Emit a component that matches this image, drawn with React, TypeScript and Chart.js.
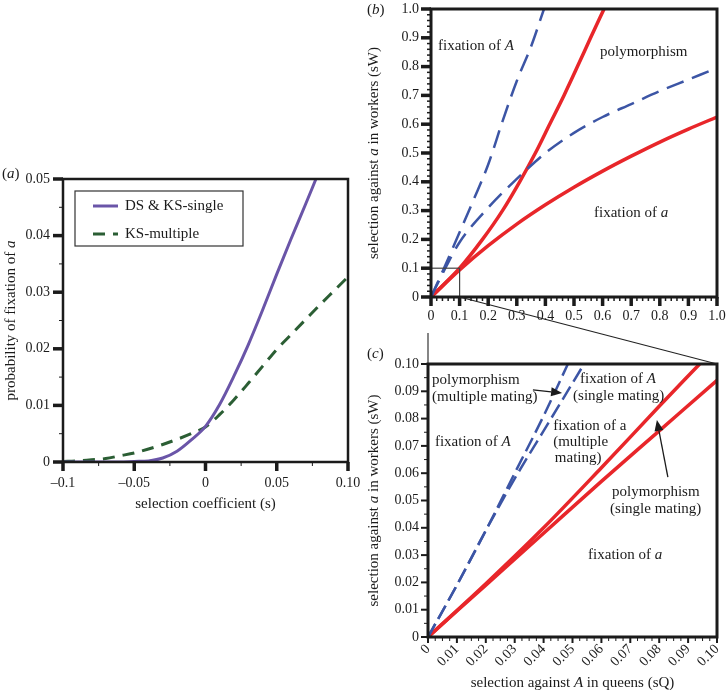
import React, { useEffect, useRef } from 'react';
import { Chart, registerables } from 'chart.js';

Chart.register(...registerables);

const FONT = '"Liberation Serif", "Times New Roman", Times, serif';
const INK = '#1b1b1b';
Chart.defaults.font.family = FONT;

// ---------------- Panel (a) data ----------------
const sSingle = [-0.1, -0.09, -0.08, -0.07, -0.06, -0.05, -0.04, -0.03, -0.02, -0.01, 0, 0.01, 0.02, 0.03, 0.04, 0.05, 0.06, 0.07, 0.0775];
const pSingle = [0, 0, 0, 0, 0, 0.0001, 0.0002, 0.0007, 0.0019, 0.0039, 0.0063, 0.0102, 0.0152, 0.0207, 0.0268, 0.0332, 0.0394, 0.0454, 0.05];
const sMultiple = [-0.1, -0.09, -0.08, -0.07, -0.06, -0.05, -0.04, -0.03, -0.02, -0.01, 0, 0.01, 0.02, 0.03, 0.04, 0.05, 0.06, 0.07, 0.08, 0.09, 0.1];
const pMultiple = [0.0001, 0.0002, 0.0004, 0.0006, 0.0011, 0.0016, 0.0023, 0.0031, 0.004, 0.005, 0.0062, 0.0084, 0.011, 0.0139, 0.0169, 0.0199, 0.0225, 0.0251, 0.0277, 0.0302, 0.0327];
const aXTicks = [-0.1, -0.05, 0, 0.05, 0.1];
const aXTickLabels = ['–0.1', '–0.05', '0', '0.05', '0.10'];
const aYTicks = [0, 0.01, 0.02, 0.03, 0.04, 0.05];
const aYTickLabels = ['0', '0.01', '0.02', '0.03', '0.04', '0.05'];

// ---------------- Panel (b) data ----------------
const bBlueSteepSQ = [0, 0.05, 0.1, 0.15, 0.2, 0.25, 0.3, 0.35, 0.395];
const bBlueSteepSW = [0, 0.11, 0.225, 0.34, 0.46, 0.61, 0.75, 0.87, 1.0];
const bBlueLowSQ = [0, 0.05, 0.1, 0.2, 0.3, 0.4, 0.5, 0.6, 0.7, 0.8, 0.9, 1.0];
const bBlueLowSW = [0, 0.1, 0.19, 0.31, 0.41, 0.5, 0.57, 0.625, 0.67, 0.715, 0.755, 0.795];
const bRedSteepSQ = [0, 0.1, 0.18, 0.25, 0.31, 0.365, 0.415, 0.465, 0.512, 0.558, 0.605];
const bRedSteepSW = [0, 0.1, 0.2, 0.3, 0.4, 0.5, 0.6, 0.7, 0.8, 0.9, 1.0];
const bRedLowSQ = [0, 0.1, 0.2, 0.3, 0.4, 0.5, 0.6, 0.7, 0.8, 0.9, 1.0];
const bRedLowSW = [0, 0.094, 0.178, 0.253, 0.32, 0.381, 0.437, 0.489, 0.538, 0.583, 0.625];
const bTicks = [0, 0.1, 0.2, 0.3, 0.4, 0.5, 0.6, 0.7, 0.8, 0.9, 1.0];
const bTickLabels = ['0', '0.1', '0.2', '0.3', '0.4', '0.5', '0.6', '0.7', '0.8', '0.9', '1.0'];

// ---------------- Panel (c) data ----------------
const cBlue1SQ = [0, 0.01, 0.02, 0.03, 0.04, 0.0484];
const cBlue1SW = [0, 0.019, 0.039, 0.06, 0.081, 0.1];
const cBlue2SQ = [0, 0.01, 0.02, 0.03, 0.04, 0.05, 0.054];
const cBlue2SW = [0, 0.019, 0.039, 0.058, 0.0755, 0.093, 0.1];
const cRed1SQ = [0, 0.02, 0.04, 0.06, 0.08, 0.094];
const cRed1SW = [0, 0.0195, 0.04, 0.062, 0.0845, 0.1];
const cRed2SQ = [0, 0.02, 0.04, 0.06, 0.08, 0.1];
const cRed2SW = [0, 0.019, 0.038, 0.057, 0.0755, 0.094];
const cTicks = [0, 0.01, 0.02, 0.03, 0.04, 0.05, 0.06, 0.07, 0.08, 0.09, 0.1];
const cTickLabels = ['0', '0.01', '0.02', '0.03', '0.04', '0.05', '0.06', '0.07', '0.08', '0.09', '0.10'];

// ---------------- colours / layout ----------------
const PURPLE = '#6a55a8';
const GREEN = '#2b5e34';
const BLUE = '#3c55a5';
const RED = '#e8262a';

const A = { left: 0, top: 150, width: 362, height: 370 };
const B = { left: 360, top: 0, width: 366, height: 330 };
const C = { left: 360, top: 330, width: 366, height: 360 };

type Seg = { t: string; i?: boolean };
type Note = { x: number; y: number; segs: Seg[] };
type Arrow = { x1: number; y1: number; x2: number; y2: number };
type TickSpec = { major: number[]; minorStep: number; majorLen: number; majorW: number; minorLen: number; minorW: number };

const bNotes: Note[] = [
  { x: 0.0245, y: 0.872, segs: [{ t: 'fixation of ' }, { t: 'A', i: true }] },
  { x: 0.591, y: 0.851, segs: [{ t: 'polymorphism' }] },
  { x: 0.57, y: 0.29, segs: [{ t: 'fixation of ' }, { t: 'a', i: true }] },
];

const cNotes: Note[] = [
  { x: 0.0014, y: 0.0941, segs: [{ t: 'polymorphism' }] },
  { x: 0.0014, y: 0.0879, segs: [{ t: '(multiple mating)' }] },
  { x: 0.0526, y: 0.0945, segs: [{ t: 'fixation of ' }, { t: 'A', i: true }] },
  { x: 0.0502, y: 0.0883, segs: [{ t: '(single mating)' }] },
  { x: 0.0433, y: 0.0773, segs: [{ t: 'fixation of a' }] },
  { x: 0.0433, y: 0.0714, segs: [{ t: '(multiple' }] },
  { x: 0.0439, y: 0.0656, segs: [{ t: 'mating)' }] },
  { x: 0.0024, y: 0.0714, segs: [{ t: 'fixation of ' }, { t: 'A', i: true }] },
  { x: 0.0637, y: 0.0531, segs: [{ t: 'polymorphism' }] },
  { x: 0.063, y: 0.0469, segs: [{ t: '(single mating)' }] },
  { x: 0.0554, y: 0.03, segs: [{ t: 'fixation of ' }, { t: 'a', i: true }] },
];

const cArrows: Arrow[] = [
  { x1: 0.0363, y1: 0.0905, x2: 0.0464, y2: 0.0894 },
  { x1: 0.083, y1: 0.0586, x2: 0.0792, y2: 0.0795 },
];

function fontOf(s: Seg, size: number) {
  return `${s.i ? 'italic ' : ''}${size}px ${FONT}`;
}

function drawRich(ctx: CanvasRenderingContext2D, segs: Seg[], x: number, y: number, size: number, align: 'left' | 'center') {
  ctx.save();
  ctx.textBaseline = 'middle';
  ctx.textAlign = 'left';
  ctx.fillStyle = INK;
  const widths = segs.map((s) => {
    ctx.font = fontOf(s, size);
    return ctx.measureText(s.t).width;
  });
  const total = widths.reduce((p, w) => p + w, 0);
  let cx = align === 'center' ? x - total / 2 : x;
  segs.forEach((s, k) => {
    ctx.font = fontOf(s, size);
    ctx.fillText(s.t, cx, y);
    cx += widths[k];
  });
  ctx.restore();
}

interface DecoOpts {
  tag: Seg[];
  tagPos: [number, number];
  yTitle: Seg[];
  yTitleX: number;
  xTitle: Seg[];
  xTitleY: number;
  xt: TickSpec;
  yt: TickSpec;
  frameW: number;
  notes?: Note[];
  arrows?: Arrow[];
  zoomBox?: { x: number; y: number };
  legendBox?: { dx: number; dy: number; w: number; h: number };
}

function makeDeco(d: DecoOpts) {
  return {
    id: 'deco',
    afterDatasetsDraw(chart: any) {
      const { ctx, chartArea: a, scales } = chart;
      const xs = scales.x;
      const ys = scales.y;
      ctx.save();

      if (d.zoomBox) {
        const x0 = xs.getPixelForValue(0);
        const y0 = ys.getPixelForValue(0);
        const x1 = xs.getPixelForValue(d.zoomBox.x);
        const y1 = ys.getPixelForValue(d.zoomBox.y);
        ctx.strokeStyle = '#444';
        ctx.lineWidth = 1.2;
        ctx.strokeRect(x0, y1, x1 - x0, y0 - y1);
      }

      ctx.strokeStyle = INK;
      ctx.lineWidth = d.frameW;
      ctx.strokeRect(a.left, a.top, a.right - a.left, a.bottom - a.top);

      const drawTicks = (spec: TickSpec, horizontal: boolean) => {
        const sc = horizontal ? xs : ys;
        const min = sc.min;
        const max = sc.max;
        const n = Math.round((max - min) / spec.minorStep);
        ctx.strokeStyle = INK;
        for (let k = 0; k <= n; k++) {
          const v = min + k * spec.minorStep;
          if (spec.major.some((m) => Math.abs(m - v) < spec.minorStep * 0.01)) continue;
          const p = sc.getPixelForValue(v);
          ctx.lineWidth = spec.minorW;
          ctx.beginPath();
          if (horizontal) {
            ctx.moveTo(p, a.bottom);
            ctx.lineTo(p, a.bottom + spec.minorLen);
          } else {
            ctx.moveTo(a.left, p);
            ctx.lineTo(a.left - spec.minorLen, p);
          }
          ctx.stroke();
        }
        spec.major.forEach((v) => {
          const p = sc.getPixelForValue(v);
          ctx.lineWidth = spec.majorW;
          ctx.beginPath();
          if (horizontal) {
            ctx.moveTo(p, a.bottom);
            ctx.lineTo(p, a.bottom + spec.majorLen);
          } else {
            ctx.moveTo(a.left, p);
            ctx.lineTo(a.left - spec.majorLen, p);
          }
          ctx.stroke();
        });
      };
      drawTicks(d.xt, true);
      drawTicks(d.yt, false);

      (d.arrows || []).forEach((ar) => {
        const x1 = xs.getPixelForValue(ar.x1);
        const y1 = ys.getPixelForValue(ar.y1);
        const x2 = xs.getPixelForValue(ar.x2);
        const y2 = ys.getPixelForValue(ar.y2);
        const ang = Math.atan2(y2 - y1, x2 - x1);
        const hl = 11;
        const hw = 4.5;
        ctx.strokeStyle = INK;
        ctx.fillStyle = INK;
        ctx.lineWidth = 1.3;
        ctx.beginPath();
        ctx.moveTo(x1, y1);
        ctx.lineTo(x2 - hl * Math.cos(ang), y2 - hl * Math.sin(ang));
        ctx.stroke();
        ctx.beginPath();
        ctx.moveTo(x2, y2);
        ctx.lineTo(x2 - hl * Math.cos(ang) - hw * Math.sin(ang), y2 - hl * Math.sin(ang) + hw * Math.cos(ang));
        ctx.lineTo(x2 - hl * Math.cos(ang) + hw * Math.sin(ang), y2 - hl * Math.sin(ang) - hw * Math.cos(ang));
        ctx.closePath();
        ctx.fill();
      });

      (d.notes || []).forEach((nt) => {
        drawRich(ctx, nt.segs, xs.getPixelForValue(nt.x), ys.getPixelForValue(nt.y), 15, 'left');
      });

      if (d.legendBox) {
        const lb = d.legendBox;
        const L = a.left + lb.dx;
        const T = a.top + lb.dy;
        ctx.fillStyle = '#fff';
        ctx.fillRect(L, T, lb.w, lb.h);
        ctx.strokeStyle = '#333';
        ctx.lineWidth = 1.2;
        ctx.strokeRect(L, T, lb.w, lb.h);
        chart.data.datasets.forEach((ds: any, k: number) => {
          const y = T + 15 + k * 28;
          ctx.save();
          ctx.strokeStyle = ds.borderColor;
          ctx.lineWidth = ds.borderWidth;
          ctx.setLineDash(ds.borderDash || []);
          ctx.beginPath();
          ctx.moveTo(L + 18, y);
          ctx.lineTo(L + 43, y);
          ctx.stroke();
          ctx.restore();
          drawRich(ctx, [{ t: ds.label }], L + 50, y, 15, 'left');
        });
      }

      const cxm = (a.left + a.right) / 2;
      const cym = (a.top + a.bottom) / 2;
      drawRich(ctx, d.xTitle, cxm, d.xTitleY, 15, 'center');
      ctx.save();
      ctx.translate(d.yTitleX, cym);
      ctx.rotate(-Math.PI / 2);
      drawRich(ctx, d.yTitle, 0, 0, 15, 'center');
      ctx.restore();
      drawRich(ctx, d.tag, d.tagPos[0], d.tagPos[1], 15, 'left');

      ctx.restore();
    },
  };
}

function axis(min: number, max: number, ticks: number[], labels: string[], horizontal: boolean, size: number, tickLen: number, pad: number, rotation = 0) {
  return {
    type: 'linear',
    min,
    max,
    afterBuildTicks: (s: any) => {
      s.ticks = ticks.map((v) => ({ value: v }));
    },
    afterFit: (s: any) => {
      if (horizontal) s.height = size;
      else s.width = size;
      s.paddingLeft = 0;
      s.paddingRight = 0;
      s.paddingTop = 0;
      s.paddingBottom = 0;
    },
    ticks: {
      callback: (_v: any, i: number) => labels[i],
      font: { family: FONT, size: 14 },
      color: INK,
      padding: pad,
      autoSkip: false,
      maxRotation: rotation,
      minRotation: rotation,
    },
    grid: { display: true, drawOnChartArea: false, drawTicks: true, tickLength: tickLen, color: 'rgba(0,0,0,0)' },
    border: { display: false },
    title: { display: false },
  };
}

function series(xs: number[], ys: number[]) {
  return xs.map((x, i) => ({ x, y: ys[i] }));
}

function lineDs(label: string, data: any[], color: string, width: number, dash: number[]) {
  return {
    label,
    data,
    borderColor: color,
    backgroundColor: color,
    borderWidth: width,
    borderDash: dash,
    pointRadius: 0,
    fill: false,
    cubicInterpolationMode: 'monotone',
  };
}

const baseOpts = {
  responsive: false,
  animation: false,
  events: [],
  plugins: { legend: { display: false }, tooltip: { enabled: false }, title: { display: false } },
};

export default function App() {
  const aRef = useRef<HTMLCanvasElement>(null);
  const bRef = useRef<HTMLCanvasElement>(null);
  const cRef = useRef<HTMLCanvasElement>(null);
  const oRef = useRef<HTMLCanvasElement>(null);

  useEffect(() => {
    const chartA = new Chart(aRef.current as HTMLCanvasElement, {
      type: 'line',
      data: {
        datasets: [
          lineDs('DS & KS-single', series(sSingle, pSingle), PURPLE, 3, []),
          lineDs('KS-multiple', series(sMultiple, pMultiple), GREEN, 3, [12, 8]),
        ],
      },
      options: {
        ...baseOpts,
        layout: { padding: { left: 0, top: 29, right: 14, bottom: 0 } },
        scales: {
          x: axis(-0.1, 0.1, aXTicks, aXTickLabels, true, 58, 9, 4),
          y: axis(0, 0.05, aYTicks, aYTickLabels, false, 63, 10, 3),
        },
      } as any,
      plugins: [
        makeDeco({
          tag: [{ t: '(' }, { t: 'a', i: true }, { t: ')' }],
          tagPos: [2, 24],
          yTitle: [{ t: 'probability of fixation of ' }, { t: 'a', i: true }],
          yTitleX: 11,
          xTitle: [{ t: 'selection coefficient (s)' }],
          xTitleY: 354,
          xt: { major: aXTicks, minorStep: 0.025, majorLen: 9, majorW: 3.5, minorLen: 4, minorW: 1 },
          yt: { major: aYTicks, minorStep: 0.005, majorLen: 10, majorW: 3.5, minorLen: 4, minorW: 1 },
          frameW: 2.5,
          legendBox: { dx: 12, dy: 12, w: 168, h: 55 },
        }),
      ],
    } as any);

    const chartB = new Chart(bRef.current as HTMLCanvasElement, {
      type: 'line',
      data: {
        datasets: [
          lineDs('multiple mating: fixation of A boundary', series(bBlueSteepSQ, bBlueSteepSW), BLUE, 2.5, [18, 9]),
          lineDs('multiple mating: fixation of a boundary', series(bBlueLowSQ, bBlueLowSW), BLUE, 2.5, [18, 9]),
          lineDs('single mating: fixation of A boundary', series(bRedSteepSQ, bRedSteepSW), RED, 3.5, []),
          lineDs('single mating: fixation of a boundary', series(bRedLowSQ, bRedLowSW), RED, 3.5, []),
        ],
      },
      options: {
        ...baseOpts,
        layout: { padding: { left: 0, top: 9, right: 9, bottom: 0 } },
        scales: {
          x: axis(0, 1, bTicks, bTickLabels, true, 33, 8, 3),
          y: axis(0, 1, bTicks, bTickLabels, false, 71, 10, 2),
        },
      } as any,
      plugins: [
        makeDeco({
          tag: [{ t: '(' }, { t: 'b', i: true }, { t: ')' }],
          tagPos: [7, 10],
          yTitle: [{ t: 'selection against ' }, { t: 'a', i: true }, { t: ' in workers (sW)' }],
          yTitleX: 14,
          xTitle: [],
          xTitleY: 0,
          xt: { major: bTicks, minorStep: 0.02, majorLen: 9, majorW: 3.5, minorLen: 4, minorW: 1.5 },
          yt: { major: bTicks, minorStep: 0.02, majorLen: 10, majorW: 3.5, minorLen: 4, minorW: 1.5 },
          frameW: 3,
          notes: bNotes,
          zoomBox: { x: 0.1, y: 0.1 },
        }),
      ],
    } as any);

    const chartC = new Chart(cRef.current as HTMLCanvasElement, {
      type: 'line',
      data: {
        datasets: [
          lineDs('multiple mating: fixation of A boundary', series(cBlue1SQ, cBlue1SW), BLUE, 2.5, [15, 6]),
          lineDs('multiple mating: fixation of a boundary', series(cBlue2SQ, cBlue2SW), BLUE, 2.5, [15, 6]),
          lineDs('single mating: fixation of A boundary', series(cRed1SQ, cRed1SW), RED, 3.5, []),
          lineDs('single mating: fixation of a boundary', series(cRed2SQ, cRed2SW), RED, 3.5, []),
        ],
      },
      options: {
        ...baseOpts,
        layout: { padding: { left: 0, top: 34, right: 9, bottom: 0 } },
        scales: {
          x: axis(0, 0.1, cTicks, cTickLabels, true, 53, 4, 0, 45),
          y: axis(0, 0.1, cTicks, cTickLabels, false, 68, 8, 1),
        },
      } as any,
      plugins: [
        makeDeco({
          tag: [{ t: '(' }, { t: 'c', i: true }, { t: ')' }],
          tagPos: [7, 24],
          yTitle: [{ t: 'selection against ' }, { t: 'a', i: true }, { t: ' in workers (sW)' }],
          yTitleX: 14,
          xTitle: [{ t: 'selection against ' }, { t: 'A', i: true }, { t: ' in queens (sQ)' }],
          xTitleY: 353,
          xt: { major: cTicks, minorStep: 0.0025, majorLen: 6, majorW: 2, minorLen: 4, minorW: 1 },
          yt: { major: cTicks, minorStep: 0.005, majorLen: 7, majorW: 2, minorLen: 4, minorW: 1 },
          frameW: 3,
          notes: cNotes,
          arrows: cArrows,
        }),
      ],
    } as any);

    const oc = oRef.current as HTMLCanvasElement;
    const octx = oc.getContext('2d') as CanvasRenderingContext2D;
    octx.clearRect(0, 0, oc.width, oc.height);
    const bx = chartB.scales.x;
    const by = chartB.scales.y;
    const cx = chartC.scales.x;
    const cy = chartC.scales.y;
    octx.strokeStyle = '#222';
    octx.lineWidth = 1.1;
    octx.beginPath();
    octx.moveTo(B.left + bx.getPixelForValue(0.1), B.top + by.getPixelForValue(0));
    octx.lineTo(C.left + cx.getPixelForValue(0.1), C.top + cy.getPixelForValue(0.1));
    octx.stroke();
    const vx = C.left + cx.getPixelForValue(0);
    octx.beginPath();
    octx.moveTo(vx, B.top + B.height + 3);
    octx.lineTo(vx, C.top + cy.getPixelForValue(0.1));
    octx.stroke();

    return () => {
      chartA.destroy();
      chartB.destroy();
      chartC.destroy();
    };
  }, []);

  const pos = (p: { left: number; top: number; width: number; height: number }) => ({
    position: 'absolute' as const,
    left: p.left,
    top: p.top,
    width: p.width,
    height: p.height,
  });

  return (
    <div style={{ position: 'fixed', left: 0, top: 0, width: 726, height: 690, overflow: 'hidden', background: '#fff' }}>
      <canvas ref={aRef} width={A.width} height={A.height} style={pos(A)} />
      <canvas ref={bRef} width={B.width} height={B.height} style={pos(B)} />
      <canvas ref={cRef} width={C.width} height={C.height} style={pos(C)} />
      <canvas ref={oRef} width={726} height={690} style={{ ...pos({ left: 0, top: 0, width: 726, height: 690 }), pointerEvents: 'none' }} />
    </div>
  );
}
